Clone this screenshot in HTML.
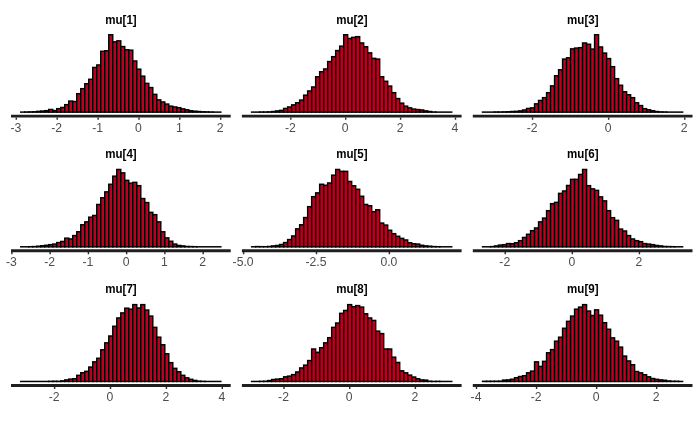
<!DOCTYPE html>
<html lang="en"><head><meta charset="utf-8"><title>mu histograms</title>
<style>html,body{margin:0;padding:0;background:#fff;}body{width:700px;height:432px;overflow:hidden;}svg{display:block;}text{font-family:"Liberation Sans",Arial,Helvetica,sans-serif;}.t{font-weight:bold;font-size:12px;fill:#000;text-anchor:middle;}.l{font-size:12.2px;fill:#4D4D4D;text-anchor:middle;}.b rect{fill:#BE001F;stroke:#000;stroke-width:1.42;}.b rect.z{fill:#000;stroke:none;}.ax{stroke:#1f1f1f;stroke-width:2.85;fill:none;}.tk{stroke:#2b2b2b;stroke-width:1.42;fill:none;}#w{position:absolute;left:0;top:0;width:700px;height:432px;will-change:transform;}</style></head><body><div id="w">
<svg width="700" height="432" viewBox="0 0 700 432">
<rect x="0" y="0" width="700" height="432" fill="#ffffff"/>
<g class="panel">
<text class="t" transform="translate(121.00 24.00) scale(0.9630 1)">mu[1]</text>
<g class="b">
<rect class="z" x="19.99" y="111.36" width="5.423" height="1.50"/>
<rect x="24.70" y="111.97" width="4.003" height="0.18"/>
<rect x="28.71" y="111.87" width="4.003" height="0.28"/>
<rect x="32.71" y="111.77" width="4.003" height="0.38"/>
<rect x="36.71" y="111.35" width="4.003" height="0.80"/>
<rect x="40.72" y="111.05" width="4.003" height="1.10"/>
<rect x="44.72" y="110.65" width="4.003" height="1.50"/>
<rect x="48.72" y="109.45" width="4.003" height="2.70"/>
<rect x="52.72" y="110.55" width="4.003" height="1.60"/>
<rect x="56.73" y="108.65" width="4.003" height="3.50"/>
<rect x="60.73" y="107.45" width="4.003" height="4.70"/>
<rect x="64.73" y="104.65" width="4.003" height="7.50"/>
<rect x="68.74" y="101.05" width="4.003" height="11.10"/>
<rect x="72.74" y="101.55" width="4.003" height="10.60"/>
<rect x="76.74" y="93.65" width="4.003" height="18.50"/>
<rect x="80.75" y="88.65" width="4.003" height="23.50"/>
<rect x="84.75" y="83.75" width="4.003" height="28.40"/>
<rect x="88.75" y="79.25" width="4.003" height="32.90"/>
<rect x="92.75" y="67.45" width="4.003" height="44.70"/>
<rect x="96.76" y="64.95" width="4.003" height="47.20"/>
<rect x="100.76" y="51.25" width="4.003" height="60.90"/>
<rect x="104.76" y="50.75" width="4.003" height="61.40"/>
<rect x="108.77" y="34.75" width="4.003" height="77.40"/>
<rect x="112.77" y="41.85" width="4.003" height="70.30"/>
<rect x="116.77" y="40.85" width="4.003" height="71.30"/>
<rect x="120.78" y="46.55" width="4.003" height="65.60"/>
<rect x="124.78" y="49.75" width="4.003" height="62.40"/>
<rect x="128.78" y="50.15" width="4.003" height="62.00"/>
<rect x="132.78" y="60.95" width="4.003" height="51.20"/>
<rect x="136.79" y="69.15" width="4.003" height="43.00"/>
<rect x="140.79" y="76.15" width="4.003" height="36.00"/>
<rect x="144.79" y="83.35" width="4.003" height="28.80"/>
<rect x="148.80" y="87.55" width="4.003" height="24.60"/>
<rect x="152.80" y="94.35" width="4.003" height="17.80"/>
<rect x="156.80" y="99.85" width="4.003" height="12.30"/>
<rect x="160.81" y="101.95" width="4.003" height="10.20"/>
<rect x="164.81" y="104.05" width="4.003" height="8.10"/>
<rect x="168.81" y="106.15" width="4.003" height="6.00"/>
<rect x="172.81" y="106.95" width="4.003" height="5.20"/>
<rect x="176.82" y="107.65" width="4.003" height="4.50"/>
<rect x="180.82" y="108.85" width="4.003" height="3.30"/>
<rect x="184.82" y="109.75" width="4.003" height="2.40"/>
<rect x="188.83" y="110.75" width="4.003" height="1.40"/>
<rect x="192.83" y="111.20" width="4.003" height="0.95"/>
<rect x="196.83" y="111.50" width="4.003" height="0.65"/>
<rect x="200.83" y="111.77" width="4.003" height="0.38"/>
<rect x="204.84" y="111.87" width="4.003" height="0.28"/>
<rect x="208.84" y="111.97" width="4.003" height="0.18"/>
<rect class="z" x="212.13" y="111.36" width="9.426" height="1.50"/>
</g>
<path class="ax" d="M11.00 116.15H230.70"/>
<path class="tk" d="M16.30 117.38v2.38M57.20 117.38v2.38M98.10 117.38v2.38M139.00 117.38v2.38M179.80 117.38v2.38M220.70 117.38v2.38"/>
<text class="l" x="15.80" y="131.80">-3</text>
<text class="l" x="56.70" y="131.80">-2</text>
<text class="l" x="97.60" y="131.80">-1</text>
<text class="l" x="138.50" y="131.80">0</text>
<text class="l" x="179.30" y="131.80">1</text>
<text class="l" x="220.20" y="131.80">2</text>
</g>
<g class="panel">
<text class="t" transform="translate(351.90 24.00) scale(0.9630 1)">mu[2]</text>
<g class="b">
<rect class="z" x="250.89" y="111.36" width="9.426" height="1.50"/>
<rect x="259.61" y="111.97" width="4.003" height="0.18"/>
<rect x="263.61" y="111.97" width="4.003" height="0.18"/>
<rect x="267.61" y="111.87" width="4.003" height="0.28"/>
<rect x="271.62" y="111.50" width="4.003" height="0.65"/>
<rect x="275.62" y="110.90" width="4.003" height="1.25"/>
<rect x="279.62" y="110.35" width="4.003" height="1.80"/>
<rect x="283.62" y="108.45" width="4.003" height="3.70"/>
<rect x="287.63" y="106.95" width="4.003" height="5.20"/>
<rect x="291.63" y="104.85" width="4.003" height="7.30"/>
<rect x="295.63" y="102.75" width="4.003" height="9.40"/>
<rect x="299.64" y="100.05" width="4.003" height="12.10"/>
<rect x="303.64" y="95.15" width="4.003" height="17.00"/>
<rect x="307.64" y="90.95" width="4.003" height="21.20"/>
<rect x="311.64" y="86.95" width="4.003" height="25.20"/>
<rect x="315.65" y="76.75" width="4.003" height="35.40"/>
<rect x="319.65" y="71.75" width="4.003" height="40.40"/>
<rect x="323.65" y="68.95" width="4.003" height="43.20"/>
<rect x="327.66" y="61.55" width="4.003" height="50.60"/>
<rect x="331.66" y="56.65" width="4.003" height="55.50"/>
<rect x="335.66" y="50.55" width="4.003" height="61.60"/>
<rect x="339.67" y="46.15" width="4.003" height="66.00"/>
<rect x="343.67" y="34.75" width="4.003" height="77.40"/>
<rect x="347.67" y="38.45" width="4.003" height="73.70"/>
<rect x="351.68" y="37.35" width="4.003" height="74.80"/>
<rect x="355.68" y="36.65" width="4.003" height="75.50"/>
<rect x="359.68" y="42.95" width="4.003" height="69.20"/>
<rect x="363.68" y="46.75" width="4.003" height="65.40"/>
<rect x="367.69" y="52.85" width="4.003" height="59.30"/>
<rect x="371.69" y="58.35" width="4.003" height="53.80"/>
<rect x="375.69" y="59.05" width="4.003" height="53.10"/>
<rect x="379.70" y="76.75" width="4.003" height="35.40"/>
<rect x="383.70" y="81.25" width="4.003" height="30.90"/>
<rect x="387.70" y="86.05" width="4.003" height="26.10"/>
<rect x="391.71" y="92.65" width="4.003" height="19.50"/>
<rect x="395.71" y="98.55" width="4.003" height="13.60"/>
<rect x="399.71" y="103.15" width="4.003" height="9.00"/>
<rect x="403.71" y="106.15" width="4.003" height="6.00"/>
<rect x="407.72" y="107.85" width="4.003" height="4.30"/>
<rect x="411.72" y="109.05" width="4.003" height="3.10"/>
<rect x="415.72" y="109.55" width="4.003" height="2.60"/>
<rect x="419.73" y="109.95" width="4.003" height="2.20"/>
<rect x="423.73" y="110.90" width="4.003" height="1.25"/>
<rect x="427.73" y="111.50" width="4.003" height="0.65"/>
<rect x="431.74" y="111.97" width="4.003" height="0.18"/>
<rect class="z" x="435.03" y="111.36" width="17.432" height="1.50"/>
</g>
<path class="ax" d="M241.90 116.15H461.60"/>
<path class="tk" d="M290.80 117.38v2.38M345.70 117.38v2.38M400.60 117.38v2.38M455.50 117.38v2.38"/>
<text class="l" x="290.30" y="131.80">-2</text>
<text class="l" x="345.20" y="131.80">0</text>
<text class="l" x="400.10" y="131.80">2</text>
<text class="l" x="455.00" y="131.80">4</text>
</g>
<g class="panel">
<text class="t" transform="translate(582.80 24.00) scale(0.9630 1)">mu[3]</text>
<g class="b">
<rect class="z" x="481.79" y="111.36" width="13.429" height="1.50"/>
<rect x="494.51" y="111.97" width="4.003" height="0.18"/>
<rect x="498.51" y="111.97" width="4.003" height="0.18"/>
<rect x="502.51" y="111.87" width="4.003" height="0.28"/>
<rect x="506.52" y="111.77" width="4.003" height="0.38"/>
<rect x="510.52" y="111.50" width="4.003" height="0.65"/>
<rect x="514.52" y="111.35" width="4.003" height="0.80"/>
<rect x="518.53" y="110.90" width="4.003" height="1.25"/>
<rect x="522.53" y="109.95" width="4.003" height="2.20"/>
<rect x="526.53" y="108.45" width="4.003" height="3.70"/>
<rect x="530.54" y="107.85" width="4.003" height="4.30"/>
<rect x="534.54" y="103.85" width="4.003" height="8.30"/>
<rect x="538.54" y="100.45" width="4.003" height="11.70"/>
<rect x="542.54" y="97.65" width="4.003" height="14.50"/>
<rect x="546.55" y="92.65" width="4.003" height="19.50"/>
<rect x="550.55" y="85.85" width="4.003" height="26.30"/>
<rect x="554.55" y="75.75" width="4.003" height="36.40"/>
<rect x="558.56" y="69.75" width="4.003" height="42.40"/>
<rect x="562.56" y="59.05" width="4.003" height="53.10"/>
<rect x="566.56" y="57.75" width="4.003" height="54.40"/>
<rect x="570.57" y="48.85" width="4.003" height="63.30"/>
<rect x="574.57" y="48.05" width="4.003" height="64.10"/>
<rect x="578.57" y="47.65" width="4.003" height="64.50"/>
<rect x="582.58" y="42.95" width="4.003" height="69.20"/>
<rect x="586.58" y="44.25" width="4.003" height="67.90"/>
<rect x="590.58" y="49.05" width="4.003" height="63.10"/>
<rect x="594.58" y="34.75" width="4.003" height="77.40"/>
<rect x="598.59" y="46.95" width="4.003" height="65.20"/>
<rect x="602.59" y="53.05" width="4.003" height="59.10"/>
<rect x="606.59" y="58.55" width="4.003" height="53.60"/>
<rect x="610.60" y="66.65" width="4.003" height="45.50"/>
<rect x="614.60" y="78.65" width="4.003" height="33.50"/>
<rect x="618.60" y="85.25" width="4.003" height="26.90"/>
<rect x="622.61" y="91.75" width="4.003" height="20.40"/>
<rect x="626.61" y="94.75" width="4.003" height="17.40"/>
<rect x="630.61" y="97.65" width="4.003" height="14.50"/>
<rect x="634.61" y="102.75" width="4.003" height="9.40"/>
<rect x="638.62" y="105.55" width="4.003" height="6.60"/>
<rect x="642.62" y="108.65" width="4.003" height="3.50"/>
<rect x="646.62" y="109.75" width="4.003" height="2.40"/>
<rect x="650.63" y="110.75" width="4.003" height="1.40"/>
<rect x="654.63" y="111.50" width="4.003" height="0.65"/>
<rect x="658.63" y="111.87" width="4.003" height="0.28"/>
<rect x="662.63" y="111.97" width="4.003" height="0.18"/>
<rect class="z" x="665.93" y="111.36" width="17.432" height="1.50"/>
</g>
<path class="ax" d="M472.80 116.15H692.50"/>
<path class="tk" d="M532.55 117.38v2.38M608.65 117.38v2.38M684.75 117.38v2.38"/>
<text class="l" x="532.05" y="131.80">-2</text>
<text class="l" x="608.15" y="131.80">0</text>
<text class="l" x="684.25" y="131.80">2</text>
</g>
<g class="panel">
<text class="t" transform="translate(121.00 158.00) scale(0.9630 1)">mu[4]</text>
<g class="b">
<rect class="z" x="19.99" y="246.06" width="9.426" height="1.50"/>
<rect x="28.71" y="246.67" width="4.003" height="0.18"/>
<rect x="32.71" y="246.57" width="4.003" height="0.28"/>
<rect x="36.71" y="246.20" width="4.003" height="0.65"/>
<rect x="40.72" y="245.75" width="4.003" height="1.10"/>
<rect x="44.72" y="245.25" width="4.003" height="1.60"/>
<rect x="48.72" y="244.65" width="4.003" height="2.20"/>
<rect x="52.72" y="244.05" width="4.003" height="2.80"/>
<rect x="56.73" y="242.55" width="4.003" height="4.30"/>
<rect x="60.73" y="241.45" width="4.003" height="5.40"/>
<rect x="64.73" y="238.15" width="4.003" height="8.70"/>
<rect x="68.74" y="238.95" width="4.003" height="7.90"/>
<rect x="72.74" y="235.55" width="4.003" height="11.30"/>
<rect x="76.74" y="231.75" width="4.003" height="15.10"/>
<rect x="80.75" y="224.75" width="4.003" height="22.10"/>
<rect x="84.75" y="221.85" width="4.003" height="25.00"/>
<rect x="88.75" y="217.15" width="4.003" height="29.70"/>
<rect x="92.75" y="215.45" width="4.003" height="31.40"/>
<rect x="96.76" y="204.45" width="4.003" height="42.40"/>
<rect x="100.76" y="197.75" width="4.003" height="49.10"/>
<rect x="104.76" y="191.85" width="4.003" height="55.00"/>
<rect x="108.77" y="184.25" width="4.003" height="62.60"/>
<rect x="112.77" y="176.15" width="4.003" height="70.70"/>
<rect x="116.77" y="169.45" width="4.003" height="77.40"/>
<rect x="120.78" y="172.85" width="4.003" height="74.00"/>
<rect x="124.78" y="180.35" width="4.003" height="66.50"/>
<rect x="128.78" y="183.15" width="4.003" height="63.70"/>
<rect x="132.78" y="182.35" width="4.003" height="64.50"/>
<rect x="136.79" y="185.65" width="4.003" height="61.20"/>
<rect x="140.79" y="198.55" width="4.003" height="48.30"/>
<rect x="144.79" y="202.55" width="4.003" height="44.30"/>
<rect x="148.80" y="212.35" width="4.003" height="34.50"/>
<rect x="152.80" y="214.65" width="4.003" height="32.20"/>
<rect x="156.80" y="221.85" width="4.003" height="25.00"/>
<rect x="160.81" y="231.75" width="4.003" height="15.10"/>
<rect x="164.81" y="237.85" width="4.003" height="9.00"/>
<rect x="168.81" y="241.25" width="4.003" height="5.60"/>
<rect x="172.81" y="244.05" width="4.003" height="2.80"/>
<rect x="176.82" y="245.45" width="4.003" height="1.40"/>
<rect x="180.82" y="245.90" width="4.003" height="0.95"/>
<rect x="184.82" y="246.47" width="4.003" height="0.38"/>
<rect x="188.83" y="246.57" width="4.003" height="0.28"/>
<rect x="192.83" y="246.67" width="4.003" height="0.18"/>
<rect class="z" x="196.12" y="246.06" width="25.438" height="1.50"/>
</g>
<path class="ax" d="M11.00 250.75H230.70"/>
<path class="tk" d="M11.90 251.98v2.38M50.15 251.98v2.38M88.40 251.98v2.38M126.65 251.98v2.38M164.90 251.98v2.38M203.15 251.98v2.38"/>
<text class="l" x="11.40" y="265.80">-3</text>
<text class="l" x="49.65" y="265.80">-2</text>
<text class="l" x="87.90" y="265.80">-1</text>
<text class="l" x="126.15" y="265.80">0</text>
<text class="l" x="164.40" y="265.80">1</text>
<text class="l" x="202.65" y="265.80">2</text>
</g>
<g class="panel">
<text class="t" transform="translate(351.90 158.00) scale(0.9630 1)">mu[5]</text>
<g class="b">
<rect class="z" x="250.89" y="246.06" width="5.423" height="1.50"/>
<rect x="255.60" y="246.57" width="4.003" height="0.28"/>
<rect x="259.61" y="246.67" width="4.003" height="0.18"/>
<rect x="263.61" y="246.67" width="4.003" height="0.18"/>
<rect x="267.61" y="246.47" width="4.003" height="0.38"/>
<rect x="271.62" y="245.90" width="4.003" height="0.95"/>
<rect x="275.62" y="245.45" width="4.003" height="1.40"/>
<rect x="279.62" y="244.45" width="4.003" height="2.40"/>
<rect x="283.62" y="242.55" width="4.003" height="4.30"/>
<rect x="287.63" y="239.55" width="4.003" height="7.30"/>
<rect x="291.63" y="235.95" width="4.003" height="10.90"/>
<rect x="295.63" y="228.85" width="4.003" height="18.00"/>
<rect x="299.64" y="224.75" width="4.003" height="22.10"/>
<rect x="303.64" y="217.55" width="4.003" height="29.30"/>
<rect x="307.64" y="206.65" width="4.003" height="40.20"/>
<rect x="311.64" y="196.65" width="4.003" height="50.20"/>
<rect x="315.65" y="192.85" width="4.003" height="54.00"/>
<rect x="319.65" y="184.25" width="4.003" height="62.60"/>
<rect x="323.65" y="185.25" width="4.003" height="61.60"/>
<rect x="327.66" y="182.95" width="4.003" height="63.90"/>
<rect x="331.66" y="175.15" width="4.003" height="71.70"/>
<rect x="335.66" y="169.45" width="4.003" height="77.40"/>
<rect x="339.67" y="171.35" width="4.003" height="75.50"/>
<rect x="343.67" y="171.35" width="4.003" height="75.50"/>
<rect x="347.67" y="181.45" width="4.003" height="65.40"/>
<rect x="351.68" y="185.75" width="4.003" height="61.10"/>
<rect x="355.68" y="189.25" width="4.003" height="57.60"/>
<rect x="359.68" y="196.25" width="4.003" height="50.60"/>
<rect x="363.68" y="204.45" width="4.003" height="42.40"/>
<rect x="367.69" y="205.75" width="4.003" height="41.10"/>
<rect x="371.69" y="211.65" width="4.003" height="35.20"/>
<rect x="375.69" y="209.75" width="4.003" height="37.10"/>
<rect x="379.70" y="223.05" width="4.003" height="23.80"/>
<rect x="383.70" y="225.05" width="4.003" height="21.80"/>
<rect x="387.70" y="230.25" width="4.003" height="16.60"/>
<rect x="391.71" y="233.65" width="4.003" height="13.20"/>
<rect x="395.71" y="236.25" width="4.003" height="10.60"/>
<rect x="399.71" y="238.35" width="4.003" height="8.50"/>
<rect x="403.71" y="239.95" width="4.003" height="6.90"/>
<rect x="407.72" y="242.75" width="4.003" height="4.10"/>
<rect x="411.72" y="243.75" width="4.003" height="3.10"/>
<rect x="415.72" y="244.05" width="4.003" height="2.80"/>
<rect x="419.73" y="245.25" width="4.003" height="1.60"/>
<rect x="423.73" y="245.90" width="4.003" height="0.95"/>
<rect x="427.73" y="246.20" width="4.003" height="0.65"/>
<rect x="431.74" y="246.57" width="4.003" height="0.28"/>
<rect x="435.74" y="246.67" width="4.003" height="0.18"/>
<rect class="z" x="439.03" y="246.06" width="13.429" height="1.50"/>
</g>
<path class="ax" d="M241.90 250.75H461.60"/>
<path class="tk" d="M243.60 251.98v2.38M316.50 251.98v2.38M389.40 251.98v2.38"/>
<text class="l" x="243.10" y="265.80">-5.0</text>
<text class="l" x="316.00" y="265.80">-2.5</text>
<text class="l" x="388.90" y="265.80">0.0</text>
</g>
<g class="panel">
<text class="t" transform="translate(582.80 158.00) scale(0.9630 1)">mu[6]</text>
<g class="b">
<rect class="z" x="481.79" y="246.06" width="9.426" height="1.50"/>
<rect x="490.51" y="246.57" width="4.003" height="0.28"/>
<rect x="494.51" y="245.90" width="4.003" height="0.95"/>
<rect x="498.51" y="245.05" width="4.003" height="1.80"/>
<rect x="502.51" y="244.65" width="4.003" height="2.20"/>
<rect x="506.52" y="243.55" width="4.003" height="3.30"/>
<rect x="510.52" y="243.75" width="4.003" height="3.10"/>
<rect x="514.52" y="242.75" width="4.003" height="4.10"/>
<rect x="518.53" y="240.65" width="4.003" height="6.20"/>
<rect x="522.53" y="237.45" width="4.003" height="9.40"/>
<rect x="526.53" y="234.25" width="4.003" height="12.60"/>
<rect x="530.54" y="230.65" width="4.003" height="16.20"/>
<rect x="534.54" y="227.95" width="4.003" height="18.90"/>
<rect x="538.54" y="221.85" width="4.003" height="25.00"/>
<rect x="542.54" y="218.05" width="4.003" height="28.80"/>
<rect x="546.55" y="210.65" width="4.003" height="36.20"/>
<rect x="550.55" y="203.65" width="4.003" height="43.20"/>
<rect x="554.55" y="202.35" width="4.003" height="44.50"/>
<rect x="558.56" y="193.35" width="4.003" height="53.50"/>
<rect x="562.56" y="190.95" width="4.003" height="55.90"/>
<rect x="566.56" y="185.45" width="4.003" height="61.40"/>
<rect x="570.57" y="179.35" width="4.003" height="67.50"/>
<rect x="574.57" y="179.35" width="4.003" height="67.50"/>
<rect x="578.57" y="174.45" width="4.003" height="72.40"/>
<rect x="582.58" y="169.45" width="4.003" height="77.40"/>
<rect x="586.58" y="185.65" width="4.003" height="61.20"/>
<rect x="590.58" y="188.85" width="4.003" height="58.00"/>
<rect x="594.58" y="190.35" width="4.003" height="56.50"/>
<rect x="598.59" y="196.85" width="4.003" height="50.00"/>
<rect x="602.59" y="200.85" width="4.003" height="46.00"/>
<rect x="606.59" y="210.65" width="4.003" height="36.20"/>
<rect x="610.60" y="217.65" width="4.003" height="29.20"/>
<rect x="614.60" y="220.35" width="4.003" height="26.50"/>
<rect x="618.60" y="229.05" width="4.003" height="17.80"/>
<rect x="622.61" y="230.95" width="4.003" height="15.90"/>
<rect x="626.61" y="235.55" width="4.003" height="11.30"/>
<rect x="630.61" y="238.95" width="4.003" height="7.90"/>
<rect x="634.61" y="240.65" width="4.003" height="6.20"/>
<rect x="638.62" y="241.65" width="4.003" height="5.20"/>
<rect x="642.62" y="243.55" width="4.003" height="3.30"/>
<rect x="646.62" y="244.05" width="4.003" height="2.80"/>
<rect x="650.63" y="244.65" width="4.003" height="2.20"/>
<rect x="654.63" y="245.45" width="4.003" height="1.40"/>
<rect x="658.63" y="245.90" width="4.003" height="0.95"/>
<rect x="662.63" y="246.47" width="4.003" height="0.38"/>
<rect x="666.64" y="246.57" width="4.003" height="0.28"/>
<rect x="670.64" y="246.67" width="4.003" height="0.18"/>
<rect class="z" x="673.93" y="246.06" width="9.426" height="1.50"/>
</g>
<path class="ax" d="M472.80 250.75H692.50"/>
<path class="tk" d="M505.25 251.98v2.38M572.35 251.98v2.38M639.45 251.98v2.38"/>
<text class="l" x="504.75" y="265.80">-2</text>
<text class="l" x="571.85" y="265.80">0</text>
<text class="l" x="638.95" y="265.80">2</text>
</g>
<g class="panel">
<text class="t" transform="translate(121.00 293.00) scale(0.9630 1)">mu[7]</text>
<g class="b">
<rect class="z" x="19.99" y="380.71" width="29.441" height="1.50"/>
<rect x="48.72" y="381.32" width="4.003" height="0.18"/>
<rect x="52.72" y="381.22" width="4.003" height="0.28"/>
<rect x="56.73" y="381.32" width="4.003" height="0.18"/>
<rect x="60.73" y="380.85" width="4.003" height="0.65"/>
<rect x="64.73" y="379.90" width="4.003" height="1.60"/>
<rect x="68.74" y="379.10" width="4.003" height="2.40"/>
<rect x="72.74" y="378.70" width="4.003" height="2.80"/>
<rect x="76.74" y="375.30" width="4.003" height="6.20"/>
<rect x="80.75" y="372.71" width="4.003" height="8.79"/>
<rect x="84.75" y="371.31" width="4.003" height="10.19"/>
<rect x="88.75" y="367.02" width="4.003" height="14.48"/>
<rect x="92.75" y="361.83" width="4.003" height="19.67"/>
<rect x="96.76" y="358.25" width="4.003" height="23.25"/>
<rect x="100.76" y="349.79" width="4.003" height="31.71"/>
<rect x="104.76" y="342.83" width="4.003" height="38.67"/>
<rect x="108.77" y="335.98" width="4.003" height="45.52"/>
<rect x="112.77" y="326.26" width="4.003" height="55.24"/>
<rect x="116.77" y="317.94" width="4.003" height="63.56"/>
<rect x="120.78" y="312.90" width="4.003" height="68.60"/>
<rect x="124.78" y="308.16" width="4.003" height="73.34"/>
<rect x="128.78" y="309.15" width="4.003" height="72.35"/>
<rect x="132.78" y="304.61" width="4.003" height="76.89"/>
<rect x="136.79" y="307.96" width="4.003" height="73.54"/>
<rect x="140.79" y="304.61" width="4.003" height="76.89"/>
<rect x="144.79" y="310.04" width="4.003" height="71.46"/>
<rect x="148.80" y="316.07" width="4.003" height="65.43"/>
<rect x="152.80" y="327.35" width="4.003" height="54.15"/>
<rect x="156.80" y="337.17" width="4.003" height="44.33"/>
<rect x="160.81" y="344.71" width="4.003" height="36.79"/>
<rect x="164.81" y="353.77" width="4.003" height="27.73"/>
<rect x="168.81" y="362.63" width="4.003" height="18.87"/>
<rect x="172.81" y="368.31" width="4.003" height="13.19"/>
<rect x="176.82" y="371.71" width="4.003" height="9.79"/>
<rect x="180.82" y="375.30" width="4.003" height="6.20"/>
<rect x="184.82" y="377.80" width="4.003" height="3.70"/>
<rect x="188.83" y="379.30" width="4.003" height="2.20"/>
<rect x="192.83" y="380.40" width="4.003" height="1.10"/>
<rect x="196.83" y="381.12" width="4.003" height="0.38"/>
<rect x="200.83" y="381.32" width="4.003" height="0.18"/>
<rect class="z" x="204.13" y="380.71" width="17.432" height="1.50"/>
</g>
<path class="ax" d="M11.00 385.50H230.70"/>
<path class="tk" d="M54.60 386.73v2.38M110.50 386.73v2.38M166.40 386.73v2.38M222.30 386.73v2.38"/>
<text class="l" x="54.10" y="400.80">-2</text>
<text class="l" x="110.00" y="400.80">0</text>
<text class="l" x="165.90" y="400.80">2</text>
<text class="l" x="221.80" y="400.80">4</text>
</g>
<g class="panel">
<text class="t" transform="translate(351.90 293.00) scale(0.9630 1)">mu[8]</text>
<g class="b">
<rect class="z" x="250.89" y="380.71" width="9.426" height="1.50"/>
<rect x="259.61" y="381.32" width="4.003" height="0.18"/>
<rect x="263.61" y="381.22" width="4.003" height="0.28"/>
<rect x="267.61" y="380.55" width="4.003" height="0.95"/>
<rect x="271.62" y="379.50" width="4.003" height="2.00"/>
<rect x="275.62" y="379.10" width="4.003" height="2.40"/>
<rect x="279.62" y="378.70" width="4.003" height="2.80"/>
<rect x="283.62" y="376.80" width="4.003" height="4.70"/>
<rect x="287.63" y="376.10" width="4.003" height="5.40"/>
<rect x="291.63" y="374.60" width="4.003" height="6.90"/>
<rect x="295.63" y="371.91" width="4.003" height="9.59"/>
<rect x="299.64" y="367.92" width="4.003" height="13.58"/>
<rect x="303.64" y="365.12" width="4.003" height="16.38"/>
<rect x="307.64" y="360.54" width="4.003" height="20.96"/>
<rect x="311.64" y="348.99" width="4.003" height="32.51"/>
<rect x="315.65" y="352.27" width="4.003" height="29.23"/>
<rect x="319.65" y="347.70" width="4.003" height="33.80"/>
<rect x="323.65" y="342.83" width="4.003" height="38.67"/>
<rect x="327.66" y="337.66" width="4.003" height="43.84"/>
<rect x="331.66" y="327.35" width="4.003" height="54.15"/>
<rect x="335.66" y="322.99" width="4.003" height="58.51"/>
<rect x="339.67" y="313.30" width="4.003" height="68.20"/>
<rect x="343.67" y="310.43" width="4.003" height="71.07"/>
<rect x="347.67" y="304.61" width="4.003" height="76.89"/>
<rect x="351.68" y="306.68" width="4.003" height="74.82"/>
<rect x="355.68" y="305.59" width="4.003" height="75.91"/>
<rect x="359.68" y="307.07" width="4.003" height="74.43"/>
<rect x="363.68" y="313.79" width="4.003" height="67.71"/>
<rect x="367.69" y="317.94" width="4.003" height="63.56"/>
<rect x="371.69" y="320.42" width="4.003" height="61.08"/>
<rect x="375.69" y="331.12" width="4.003" height="50.38"/>
<rect x="379.70" y="333.60" width="4.003" height="47.90"/>
<rect x="383.70" y="348.99" width="4.003" height="32.51"/>
<rect x="387.70" y="348.99" width="4.003" height="32.51"/>
<rect x="391.71" y="357.15" width="4.003" height="24.35"/>
<rect x="395.71" y="362.43" width="4.003" height="19.07"/>
<rect x="399.71" y="370.81" width="4.003" height="10.69"/>
<rect x="403.71" y="372.81" width="4.003" height="8.69"/>
<rect x="407.72" y="375.10" width="4.003" height="6.40"/>
<rect x="411.72" y="377.00" width="4.003" height="4.50"/>
<rect x="415.72" y="378.70" width="4.003" height="2.80"/>
<rect x="419.73" y="379.90" width="4.003" height="1.60"/>
<rect x="423.73" y="380.10" width="4.003" height="1.40"/>
<rect x="427.73" y="381.22" width="4.003" height="0.28"/>
<rect class="z" x="431.03" y="380.71" width="5.423" height="1.50"/>
<rect x="435.74" y="381.32" width="4.003" height="0.18"/>
<rect class="z" x="439.03" y="380.71" width="13.429" height="1.50"/>
</g>
<path class="ax" d="M241.90 385.50H461.60"/>
<path class="tk" d="M284.00 386.73v2.38M349.70 386.73v2.38M415.40 386.73v2.38"/>
<text class="l" x="283.50" y="400.80">-2</text>
<text class="l" x="349.20" y="400.80">0</text>
<text class="l" x="414.90" y="400.80">2</text>
</g>
<g class="panel">
<text class="t" transform="translate(582.80 293.00) scale(0.9630 1)">mu[9]</text>
<g class="b">
<rect x="482.50" y="381.27" width="4.003" height="0.23"/>
<rect x="486.50" y="381.27" width="4.003" height="0.23"/>
<rect x="490.51" y="381.22" width="4.003" height="0.28"/>
<rect x="494.51" y="381.22" width="4.003" height="0.28"/>
<rect x="498.51" y="381.12" width="4.003" height="0.38"/>
<rect x="502.51" y="380.10" width="4.003" height="1.40"/>
<rect x="506.52" y="379.90" width="4.003" height="1.60"/>
<rect x="510.52" y="379.20" width="4.003" height="2.30"/>
<rect x="514.52" y="377.70" width="4.003" height="3.80"/>
<rect x="518.53" y="376.50" width="4.003" height="5.00"/>
<rect x="522.53" y="375.70" width="4.003" height="5.80"/>
<rect x="526.53" y="372.81" width="4.003" height="8.69"/>
<rect x="530.54" y="371.11" width="4.003" height="10.39"/>
<rect x="534.54" y="361.83" width="4.003" height="19.67"/>
<rect x="538.54" y="366.42" width="4.003" height="15.08"/>
<rect x="542.54" y="361.33" width="4.003" height="20.17"/>
<rect x="546.55" y="352.77" width="4.003" height="28.73"/>
<rect x="550.55" y="349.59" width="4.003" height="31.91"/>
<rect x="554.55" y="341.14" width="4.003" height="40.36"/>
<rect x="558.56" y="337.17" width="4.003" height="44.33"/>
<rect x="562.56" y="328.24" width="4.003" height="53.26"/>
<rect x="566.56" y="321.31" width="4.003" height="60.19"/>
<rect x="570.57" y="316.07" width="4.003" height="65.43"/>
<rect x="574.57" y="309.15" width="4.003" height="72.35"/>
<rect x="578.57" y="307.07" width="4.003" height="74.43"/>
<rect x="582.58" y="304.61" width="4.003" height="76.89"/>
<rect x="586.58" y="311.02" width="4.003" height="70.48"/>
<rect x="590.58" y="315.47" width="4.003" height="66.03"/>
<rect x="594.58" y="309.84" width="4.003" height="71.66"/>
<rect x="598.59" y="315.18" width="4.003" height="66.32"/>
<rect x="602.59" y="322.69" width="4.003" height="58.81"/>
<rect x="606.59" y="329.23" width="4.003" height="52.27"/>
<rect x="610.60" y="337.86" width="4.003" height="43.64"/>
<rect x="614.60" y="341.14" width="4.003" height="40.36"/>
<rect x="618.60" y="347.10" width="4.003" height="34.40"/>
<rect x="622.61" y="356.05" width="4.003" height="25.45"/>
<rect x="626.61" y="360.94" width="4.003" height="20.56"/>
<rect x="630.61" y="364.72" width="4.003" height="16.78"/>
<rect x="634.61" y="371.51" width="4.003" height="9.99"/>
<rect x="638.62" y="372.81" width="4.003" height="8.69"/>
<rect x="642.62" y="374.70" width="4.003" height="6.80"/>
<rect x="646.62" y="376.80" width="4.003" height="4.70"/>
<rect x="650.63" y="378.50" width="4.003" height="3.00"/>
<rect x="654.63" y="379.30" width="4.003" height="2.20"/>
<rect x="658.63" y="379.90" width="4.003" height="1.60"/>
<rect x="662.63" y="380.25" width="4.003" height="1.25"/>
<rect x="666.64" y="380.93" width="4.003" height="0.57"/>
<rect x="670.64" y="381.22" width="4.003" height="0.28"/>
<rect x="674.64" y="381.22" width="4.003" height="0.28"/>
<rect class="z" x="677.94" y="380.71" width="5.423" height="1.50"/>
</g>
<path class="ax" d="M472.80 385.50H692.50"/>
<path class="tk" d="M476.50 386.73v2.38M536.55 386.73v2.38M596.60 386.73v2.38M656.65 386.73v2.38"/>
<text class="l" x="476.00" y="400.80">-4</text>
<text class="l" x="536.05" y="400.80">-2</text>
<text class="l" x="596.10" y="400.80">0</text>
<text class="l" x="656.15" y="400.80">2</text>
</g>
</svg></div></body></html>
